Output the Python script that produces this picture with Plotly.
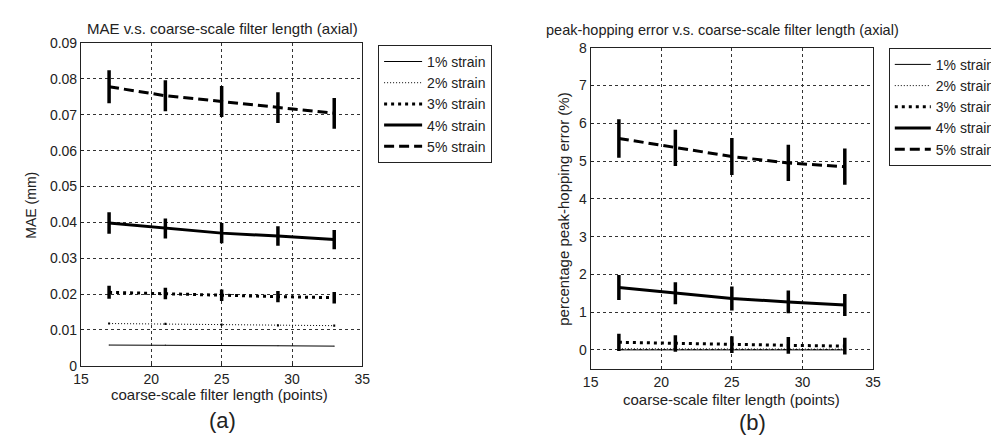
import plotly.graph_objects as go

filter_len = [17, 21, 25, 29, 33]
series_names = ["1% strain", "2% strain", "3% strain", "4% strain", "5% strain"]

# (a) MAE (mm)
mae_1 = [0.0058, 0.0058, 0.0057, 0.0056, 0.0055]
mae_2 = [0.0118, 0.0117, 0.0115, 0.0113, 0.0112]
mae_3 = [0.0205, 0.0202, 0.0197, 0.0193, 0.0190]
mae_4 = [0.0398, 0.0383, 0.0370, 0.0362, 0.0352]
mae_5 = [0.0778, 0.0753, 0.0737, 0.0720, 0.0704]
mae_err_1 = [0.0001, 0.0001, 0.0001, 0.0001, 0.0001]
mae_err_2 = [0.0003, 0.0003, 0.0003, 0.0003, 0.0003]
mae_err_3 = [0.0018, 0.0016, 0.0016, 0.0016, 0.0016]
mae_err_4 = [0.0030, 0.0028, 0.0028, 0.0027, 0.0027]
mae_err_5 = [0.0046, 0.0043, 0.0043, 0.0043, 0.0043]

# (b) peak-hopping error (%)
ph_1 = [0.0, 0.0, 0.0, 0.0, 0.0]
ph_2 = [0.03, 0.03, 0.02, 0.02, 0.02]
ph_3 = [0.20, 0.17, 0.14, 0.12, 0.10]
ph_4 = [1.65, 1.50, 1.36, 1.27, 1.19]
ph_5 = [5.60, 5.35, 5.12, 4.95, 4.85]
ph_err_1 = [0.0, 0.0, 0.0, 0.0, 0.0]
ph_err_2 = [0.05, 0.05, 0.05, 0.05, 0.05]
ph_err_3 = [0.23, 0.22, 0.22, 0.22, 0.22]
ph_err_4 = [0.33, 0.29, 0.32, 0.30, 0.29]
ph_err_5 = [0.51, 0.48, 0.49, 0.48, 0.48]

mae_yticks = [0, 0.01, 0.02, 0.03, 0.04, 0.05, 0.06, 0.07, 0.08, 0.09]
mae_yticklabels = ["0", "0.01", "0.02", "0.03", "0.04", "0.05", "0.06", "0.07", "0.08", "0.09"]
ph_yticks = [0, 1, 2, 3, 4, 5, 6, 7, 8]
x_ticks = [15, 20, 25, 30, 35]

styles = [
    dict(width=1, dash="solid", ew=1),
    dict(width=1, dash="1px,2px", ew=2),
    dict(width=3, dash="3px,4px", ew=3.5),
    dict(width=3, dash="solid", ew=3.5),
    dict(width=3, dash="10px,5px", ew=3.5),
]

fig = go.Figure()

mae_vals = [mae_1, mae_2, mae_3, mae_4, mae_5]
mae_errs = [mae_err_1, mae_err_2, mae_err_3, mae_err_4, mae_err_5]
ph_vals = [ph_1, ph_2, ph_3, ph_4, ph_5]
ph_errs = [ph_err_1, ph_err_2, ph_err_3, ph_err_4, ph_err_5]

for name, v, e, st in zip(series_names, mae_vals, mae_errs, styles):
    fig.add_trace(go.Scatter(
        x=filter_len, y=v, name=name, mode="lines",
        line=dict(color="black", width=st["width"], dash=st["dash"]),
        error_y=dict(type="data", array=e, visible=True, color="black",
                     thickness=st["ew"], width=0),
        xaxis="x", yaxis="y", legend="legend"))

for name, v, e, st in zip(series_names, ph_vals, ph_errs, styles):
    fig.add_trace(go.Scatter(
        x=filter_len, y=v, name=name, mode="lines",
        line=dict(color="black", width=st["width"], dash=st["dash"]),
        error_y=dict(type="data", array=e, visible=True, color="black",
                     thickness=st["ew"], width=0),
        xaxis="x2", yaxis="y2", legend="legend2"))

W, H = 999, 442
def dx(a, b):
    return [a / W, b / W]
def dy(top, bottom):
    return [1 - bottom / H, 1 - top / H]

font_family = "Liberation Sans, Arial, sans-serif"
axis_common = dict(showline=True, mirror=True, linecolor="#222", linewidth=1,
                   showgrid=True, gridcolor="#333", griddash="dot", gridwidth=1,
                   ticks="inside", ticklen=3, tickcolor="#222", zeroline=False,
                   tickfont=dict(size=14, color="#222", family=font_family))

fig.update_layout(
    width=W, height=H, margin=dict(l=0, r=0, t=0, b=0),
    paper_bgcolor="white", plot_bgcolor="white",
    font=dict(family=font_family, color="#222"),
    xaxis=dict(domain=dx(66, 352), range=[15, 35], tickvals=x_ticks, anchor="y", **axis_common),
    yaxis=dict(domain=dy(28, 363), range=[0, 0.09], tickvals=mae_yticks,
               ticktext=mae_yticklabels, anchor="x", **axis_common),
    xaxis2=dict(domain=dx(584, 871), range=[15, 35], tickvals=x_ticks, anchor="y2", **axis_common),
    yaxis2=dict(domain=dy(33, 366), range=[-0.5, 8], tickvals=ph_yticks, anchor="x2", **axis_common),
    legend=dict(x=368 / W, y=1 - 30 / H, xanchor="left", yanchor="top",
                bordercolor="#222", borderwidth=1, bgcolor="white",
                font=dict(size=14, family=font_family, color="#222"),
                tracegroupgap=0, itemwidth=38),
    legend2=dict(x=887 / W, y=1 - 33 / H, xanchor="left", yanchor="top",
                 bordercolor="#222", borderwidth=1, bgcolor="white",
                 font=dict(size=14, family=font_family, color="#222"),
                 tracegroupgap=0, itemwidth=36),
    showlegend=True,
)

def ann(text, x, y, size, angle=0):
    fig.add_annotation(text=text, x=x / W, y=1 - y / H, xref="paper", yref="paper",
                       showarrow=False, textangle=angle, xanchor="center", yanchor="middle",
                       font=dict(size=size, family=font_family, color="#222"))

ann("MAE v.s. coarse-scale filter length (axial)", 210, 13, 15)
ann("peak-hopping error v.s. coarse-scale filter length (axial)", 718, 15, 14.5)
ann("coarse-scale filter length (points)", 207, 393, 15)
ann("coarse-scale filter length (points)", 727, 398, 15)
ann("MAE (mm)", 15, 196, 14, -90)
ann("percentage peak-hopping error (%)", 557, 201, 15, -90)
ann("(a)", 210, 420, 22)
ann("(b)", 748, 422, 22)

fig.write_html("out.html")
